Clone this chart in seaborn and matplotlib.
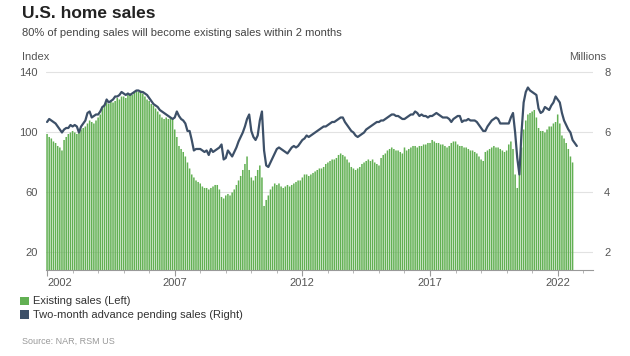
import matplotlib
matplotlib.use("Agg")
import matplotlib.pyplot as plt
from matplotlib.patches import Patch
import seaborn as sns
import numpy as np

# monthly values, Jan 2002 onward (left axis units)
existing = [
    99, 97, 96, 94, 93, 91, 90, 88, 95, 97, 99, 100,          # 2002
    101, 100, 99, 101, 102, 103, 104, 106, 108, 107, 106, 108,  # 2003
    110, 112, 116, 119, 120, 119, 121, 120, 121, 123, 122, 124,  # 2004
    124, 123, 125, 126, 125, 127, 128, 127, 128, 126, 124, 122,  # 2005
    121, 119, 118, 116, 114, 112, 110, 109, 110, 109, 110, 109,  # 2006
    102, 97, 91, 89, 87, 84, 80, 76, 72, 70, 68, 67,            # 2007
    66, 64, 63, 63, 62, 63, 64, 65, 65, 62, 57, 56,             # 2008
    58, 59, 58, 60, 62, 65, 68, 71, 75, 79, 84, 75,             # 2009
    70, 68, 71, 75, 78, 70, 51, 55, 58, 62, 64, 66,             # 2010
    65, 66, 64, 63, 64, 65, 64, 65, 66, 67, 68, 68,             # 2011
    70, 72, 72, 71, 72, 73, 74, 75, 76, 76, 77, 79,             # 2012
    80, 81, 82, 82, 83, 85, 86, 85, 84, 82, 80, 77,             # 2013
    76, 75, 76, 77, 79, 80, 81, 82, 81, 82, 80, 79,             # 2014
    78, 83, 85, 86, 88, 89, 90, 89, 88, 88, 87, 86,             # 2015
    90, 88, 89, 90, 91, 91, 90, 91, 91, 92, 92, 93,             # 2016
    93, 95, 94, 93, 93, 92, 92, 91, 90, 91, 93, 94,             # 2017
    94, 92, 91, 91, 90, 90, 89, 88, 88, 87, 86, 84,             # 2018
    82, 81, 87, 88, 89, 90, 91, 90, 90, 89, 88, 87,             # 2019
    88, 92, 94, 89, 72, 63, 80, 90, 102, 108, 112, 113,         # 2020
    114, 115, 110, 103, 101, 101, 100, 102, 104, 104, 106, 107,  # 2021
    112, 106, 98, 96, 93, 89, 84, 80,                           # 2022
]

pending = [
    107, 109, 108, 107, 106, 104, 102, 100, 102, 103, 103, 105,  # 2002
    104, 105, 104, 100, 104, 106, 108, 113, 114, 110, 111, 112,  # 2003
    112, 114, 117, 118, 122, 120, 121, 122, 124, 124, 125, 127,  # 2004
    126, 125, 126, 125, 126, 127, 128, 128, 127, 127, 126, 125,  # 2005
    123, 121, 119, 118, 117, 115, 114, 113, 112, 111, 110, 109,  # 2006
    110, 114, 111, 109, 108, 106, 101, 101, 95, 88, 89, 89,      # 2007
    89, 88, 87, 88, 85, 89, 87, 88, 89, 90, 92, 82,             # 2008
    83, 88, 86, 84, 87, 90, 94, 97, 100, 104, 109, 112,         # 2009
    101, 97, 95, 98, 108, 114, 88, 78, 77, 80, 83, 86,          # 2010
    89, 90, 89, 88, 87, 86, 88, 90, 91, 90, 91, 93,             # 2011
    95, 96, 98, 97, 98, 99, 100, 101, 102, 103, 104, 104,        # 2012
    105, 106, 107, 107, 108, 109, 110, 110, 107, 105, 103, 101,  # 2013
    100, 98, 97, 98, 99, 100, 102, 103, 104, 105, 106, 107,      # 2014
    107, 108, 108, 109, 110, 111, 112, 112, 111, 111, 110, 109,  # 2015
    109, 110, 111, 112, 112, 114, 113, 111, 112, 111, 111, 110,  # 2016
    111, 111, 112, 113, 112, 111, 110, 110, 110, 109, 107, 109,  # 2017
    110, 111, 111, 107, 108, 108, 109, 108, 108, 108, 107, 105,  # 2018
    103, 101, 101, 104, 106, 108, 109, 110, 109, 106, 106, 106,  # 2019
    106, 106, 110, 113, 100, 83, 72, 100, 120, 127, 130, 128,    # 2020
    127, 126, 125, 116, 113, 114, 117, 116, 115, 118, 120, 124,  # 2021
    122, 120, 113, 108, 105, 102, 100, 95, 93, 91,              # 2022
]

year_ticks = [2002, 2007, 2012, 2017, 2022]
left_ticks = [20, 60, 100, 140]
right_ticks = [2, 4, 6, 8]

bar_color = "#62b053"
line_color = "#3d5068"
text_gray = "#555555"

sns.set_theme(style="white")
plt.rcParams["font.family"] = ["Liberation Sans", "DejaVu Sans"]

fig = plt.figure(figsize=(6.3, 3.56), dpi=100)
ax = fig.add_axes([46 / 630, 1 - 270 / 356, (593 - 46) / 630, 199 / 356])

months_bar = np.arange(len(existing))
months_line = np.arange(len(pending))

sns.barplot(x=months_bar, y=existing, native_scale=True, width=0.72,
            color=bar_color, saturation=1, linewidth=0, edgecolor="none",
            errorbar=None, snap=False, ax=ax)
sns.lineplot(x=months_line, y=pending, color=line_color, lw=1.6, ax=ax, zorder=3)

ax.set_xlim(-0.5, 256.6)
ax.set_ylim(8.3, 141)
ax.set_yticks(left_ticks)
ax.set_yticklabels([str(t) for t in left_ticks])
ax.set_xticks([(y - 2002) * 12 for y in year_ticks])
ax.set_xticklabels([str(y) for y in year_ticks])
ax.set_xticks(np.arange(0, 256, 12), minor=True)
ax.xaxis.get_majorticklabels()[0].set_ha("left")

ax.yaxis.grid(True, color="#e2e2e2", lw=0.8)
ax.set_axisbelow(True)
for s in ["top", "right", "left"]:
    ax.spines[s].set_visible(False)
ax.spines["bottom"].set_color("#999999")
ax.spines["bottom"].set_linewidth(0.8)
ax.tick_params(axis="y", length=0, pad=6, labelsize=8, labelcolor=text_gray)
ax.tick_params(axis="x", which="major", length=4, width=0.8, color="#999999",
               bottom=True, pad=2, labelsize=8, labelcolor=text_gray)
ax.tick_params(axis="x", which="minor", length=2, width=0.6, color="#aaaaaa", bottom=True)
ax.set_xlabel("")
ax.set_ylabel("")

sec = ax.secondary_yaxis("right", functions=(lambda v: (v + 20) / 20, lambda m: m * 20 - 20))
sec.set_yticks(right_ticks)
sec.set_yticklabels([str(t) for t in right_ticks])
sec.tick_params(length=0, pad=8, labelsize=8, labelcolor=text_gray)
sec.spines["right"].set_visible(False)

fig.text(22 / 630, 1 - 14 / 356, "U.S. home sales", fontsize=12.5, fontweight="bold",
         color="#222222", va="center")
fig.text(22 / 630, 1 - 33 / 356, "80% of pending sales will become existing sales within 2 months",
         fontsize=8, color="#444444", va="center")
fig.text(22 / 630, 1 - 57 / 356, "Index", fontsize=8, color=text_gray, va="center")
fig.text(606 / 630, 1 - 57 / 356, "Millions", fontsize=8, color=text_gray, va="center", ha="right")

handles = [Patch(facecolor=bar_color, edgecolor="none", label="Existing sales (Left)"),
           Patch(facecolor=line_color, edgecolor="none", label="Two-month advance pending sales (Right)")]
fig.legend(handles=handles, loc="upper left", bbox_to_anchor=(16 / 630, 1 - 292 / 356),
           frameon=False, fontsize=8, handlelength=0.75, handleheight=0.75,
           handletextpad=0.35, labelspacing=0.35, borderaxespad=0, labelcolor="#333333")
fig.text(22 / 630, 1 - 341 / 356, "Source: NAR, RSM US", fontsize=6.5, color="#999999", va="center")

fig.savefig("out.png", dpi=100)
